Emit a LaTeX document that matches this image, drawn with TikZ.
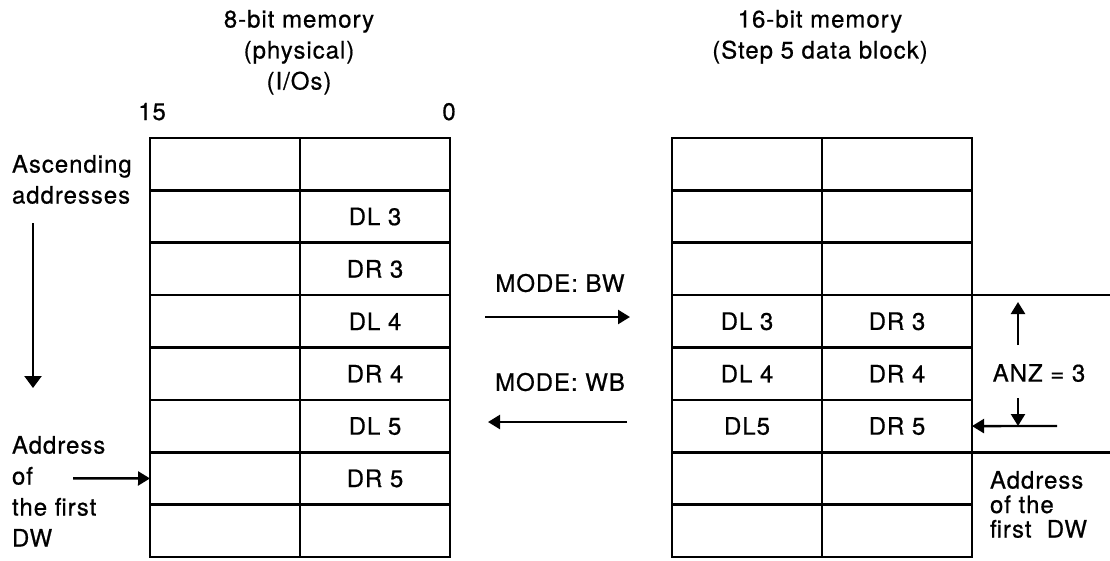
\documentclass[tikz,border=0pt]{standalone}
\usepackage{fontspec}
\setmainfont{TeX Gyre Heros}[LetterSpace=4,FakeBold=0.6]
\usetikzlibrary{arrows.meta}
\begin{document}
\begin{tikzpicture}[x=1pt,y=-1pt,
  cell/.style={draw, line width=2.6pt, minimum width=150pt, minimum height=52.375pt,
    inner sep=0pt, outer sep=0pt, anchor=north west, font=\fontsize{24}{28}\selectfont},
  lbl/.style={inner sep=0pt, outer sep=0pt, font=\fontsize{24}{31}\selectfont},
  arr/.style={line width=2.4pt, -{Triangle[length=12pt,width=14pt]}},
  rule/.style={line width=2.6pt},
]
\useasboundingbox (0,0) rectangle (1110,560);

% tables
\foreach \r/\la/\lb/\ra/\rb in {1/{}/{}/{}/{}, 2/{}/DL 3/{}/{}, 3/{}/DR 3/{}/{},
  4/{}/DL 4/DL 3/DR 3, 5/{}/DR 4/DL 4/DR 4, 6/{}/DL 5/DL5/DR 5,
  7/{}/DR 5/{}/{}, 8/{}/{}/{}/{}} {
  \node[cell] (L\r-a) at (150, {138+(\r-1)*52.375}) {\la};
  \node[cell] (L\r-b) at (300, {138+(\r-1)*52.375}) {\lb};
  \node[cell] (R\r-a) at (672, {138+(\r-1)*52.375}) {\ra};
  \node[cell] (R\r-b) at (822, {138+(\r-1)*52.375}) {\rb};
}

% titles
\node[lbl, align=center, anchor=north] (t8) at (299,10) {8-bit memory\\(physical)\\(I/Os)};
\node[lbl, align=center, anchor=north] (t16) at (820,10) {16-bit memory\\(Step 5 data block)};
\node[lbl, anchor=base] (b15) at (152,120) {15};
\node[lbl, anchor=base] (b0) at (449,120) {0};

% left annotations
\node[lbl, align=left, anchor=north west] (asc) at (12,155) {Ascending\\addresses};
\coordinate (va1) at (33,223);
\coordinate (va2) at (33,388);
\draw[arr, -{Triangle[length=12pt,width=17pt]}] (va1) -- (va2);

\node[lbl, align=left, anchor=north west] (adr1) at (12,436) {Address\\of\\the first\\DW};
\coordinate (aa) at (73,478.4);
\draw[arr] (aa) -- (L7-a.west);

% mode arrows
\node[lbl] (bw) at (560,283) {MODE: BW};
\coordinate (bw1) at (485,317);
\coordinate (bw2) at (630,317);
\draw[arr] (bw1) -- (bw2);
\node[lbl] (wb) at (560,382) {MODE: WB};
\coordinate (wb1) at (627,422);
\coordinate (wb2) at (488,422);
\draw[arr] (wb1) -- (wb2);

% right annotations
\coordinate (e1) at (1110,295.125);
\coordinate (e2) at (1110,452.25);
\draw[rule] (R4-b.north east) -- (e1);
\draw[rule] (R6-b.south east) -- (e2);

\node[lbl] (anz) at (1039,373) {ANZ = 3};
\coordinate (u1) at (1018,345);
\coordinate (u2) at (1018,302);
\draw[arr] (u1) -- (u2);
\coordinate (d1) at (1018,398);
\coordinate (d2) at (1018,426);
\draw[arr] (d1) -- (d2);
\coordinate (h1) at (1057,426);
\draw[arr] (h1) -- (R6-b.east);

\node[lbl, align=left, anchor=north west, font=\fontsize{24}{24.5}\selectfont] (adr2) at (990,471) {Address\\of the\\first\ \ DW};
\end{tikzpicture}
\end{document}
